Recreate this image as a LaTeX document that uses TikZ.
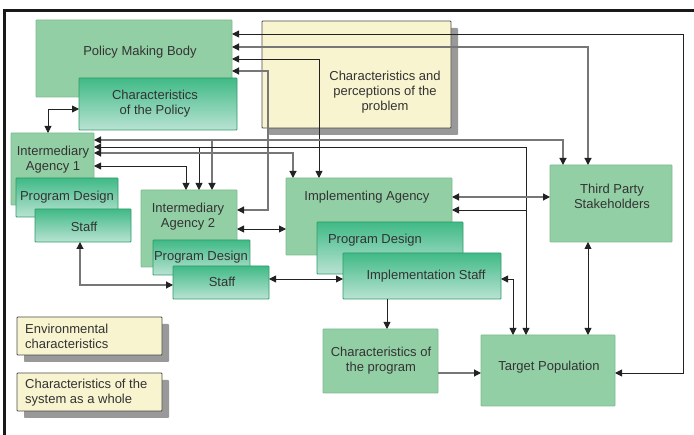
\documentclass[tikz,border=0pt]{standalone}
\usepackage{fontspec}
\setmainfont{Liberation Sans}
\usetikzlibrary{arrows.meta}
\definecolor{lgreen}{HTML}{93CFA5}
\definecolor{lgreenb}{HTML}{7DBB91}
\definecolor{gtop}{HTML}{40BA86}
\definecolor{gbot}{HTML}{B9E3D3}
\definecolor{gbord}{HTML}{2F9A6A}
\definecolor{ybox}{HTML}{F8F4D0}
\definecolor{txtc}{HTML}{333333}
\definecolor{lnblack}{HTML}{222222}
\definecolor{lngray}{HTML}{777777}
\begin{document}
\begin{tikzpicture}[x=1pt,y=-1pt,
  >={Triangle[length=7pt,width=7pt,color=lnblack]},
  base/.style={anchor=north west, inner sep=0pt, outer sep=0pt, rectangle, rounded corners=0.8pt},
  lbox/.style={base, fill=lgreen, draw=lgreenb, line width=0.8pt},
  gbox/.style={base, top color=gtop, bottom color=gbot, draw=gbord, line width=0.8pt},
  ybx/.style={base, fill=ybox, draw=black!70, line width=0.8pt},
  shd/.style={base, fill=black!40},
  lab/.style={text=txtc, inner sep=0pt, align=center, font=\fontsize{13}{15}\selectfont},
  labl/.style={lab, align=left, anchor=west},
  ln/.style={draw=lnblack, line width=0.9pt},
  lg/.style={draw=lngray, line width=1.2pt}
]
\useasboundingbox (0,0) rectangle (694,435);
% frame
\draw[line width=2.8pt, black!90] (4.5,435) -- (4.5,10.5) -- (694,10.5);

% boxes
\node[lbox, minimum width=196pt, minimum height=77pt] (pmb) at (36,20) {};
\node[gbox, minimum width=158pt, minimum height=52pt] (cp) at (79,78) {};
\node[shd, minimum width=189pt, minimum height=107pt] (probs) at (269,28) {};
\node[ybx, minimum width=189pt, minimum height=107pt] (prob) at (262,21) {};

\node[lbox, minimum width=83pt, minimum height=72pt] (ia1) at (11,133) {};
\node[gbox, minimum width=102pt, minimum height=39pt] (pd1) at (16,178) {};
\node[gbox, minimum width=96pt, minimum height=33pt] (s1) at (35,209) {};

\node[lbox, minimum width=96pt, minimum height=77pt] (ia2) at (141,190) {};
\node[gbox, minimum width=97pt, minimum height=35pt] (pd2) at (153,240) {};
\node[gbox, minimum width=96pt, minimum height=33pt] (s2) at (173,266) {};

\node[lbox, minimum width=166pt, minimum height=77pt] (ia) at (286,178) {};
\node[gbox, minimum width=146pt, minimum height=52pt] (pd3) at (317,222) {};
\node[gbox, minimum width=158pt, minimum height=46pt] (is) at (343,253) {};

\node[lbox, minimum width=122pt, minimum height=77pt] (tps) at (550,165) {};
\node[lbox, minimum width=115pt, minimum height=64pt] (cprog) at (323,329) {};
\node[lbox, minimum width=134pt, minimum height=71pt] (tp) at (481,335) {};

\node[shd, minimum width=145pt, minimum height=38pt] (envs) at (24,324) {};
\node[ybx, minimum width=145pt, minimum height=38pt] (env) at (17,317) {};
\node[shd, minimum width=145pt, minimum height=38pt] (syss) at (24,380) {};
\node[ybx, minimum width=145pt, minimum height=38pt] (sys) at (17,373) {};

% labels
\node[lab] (pmbt) at (140,52) {Policy Making Body};
\node[lab] (cpt) at (155,104) {Characteristics\\of the Policy};
\node[lab] (probt) at (385,92) {Characteristics and\\perceptions of the\\problem};
\node[lab] (ia1t) at (53,160) {Intermediary\\Agency 1};
\node[lab] (pd1t) at (67,197) {Program Design};
\node[lab] (s1t) at (84,227) {Staff};
\node[lab] (ia2t) at (188,217) {Intermediary\\Agency 2};
\node[lab] (pd2t) at (201,257) {Program Design};
\node[lab] (s2t) at (222,282) {Staff};
\node[lab] (iat) at (367,197) {Implementing Agency};
\node[lab] (pd3t) at (375,240) {Program Design};
\node[lab] (ist) at (426,276) {Implementation Staff};
\node[lab] (tpst) at (612,196) {Third Party\\Stakeholders};
\node[lab] (cprogt) at (381,361) {Characteristics of\\the program};
\node[lab] (tpt) at (549,367) {Target Population};
\node[labl] (envt) at (25,336) {Environmental\\characteristics};
\node[labl] (syst) at (25,393) {Characteristics of the\\system as a whole};

% lane coordinates
\coordinate (h34) at (0,34);
\coordinate (h47) at (0,47);
\coordinate (h59) at (0,59);
\coordinate (h71) at (0,71);
\coordinate (h109) at (0,109);
\coordinate (h140) at (0,140);
\coordinate (h147) at (0,147);
\coordinate (h153) at (0,153);
\coordinate (h166) at (0,166);
\coordinate (h197) at (0,197);
\coordinate (h210) at (0,210);
\coordinate (h229) at (0,229);
\coordinate (h279) at (0,279);
\coordinate (h285) at (0,285);
\coordinate (h373) at (0,373);
\coordinate (v48) at (48,0);
\coordinate (v80) at (80,0);
\coordinate (v186) at (186,0);
\coordinate (v199) at (199,0);
\coordinate (v212) at (212,0);
\coordinate (v268) at (268,0);
\coordinate (v293) at (293,0);
\coordinate (v319) at (319,0);
\coordinate (v387) at (387,0);
\coordinate (v513) at (513,0);
\coordinate (v526) at (526,0);
\coordinate (v563) at (563,0);
\coordinate (v588) at (588,0);
\coordinate (v683) at (683,0);

% connectors
\draw[ln,<->] (pmb.east |- h34) -- (v683 |- h34) -- (v683 |- h373) -- (tp.east |- h373);
\draw[lg,<->] (pmb.east |- h47) -- (v588 |- h47) -- (v588 |- tps.north);
\draw[ln,<->] (pmb.east |- h59) -- (v319 |- h59) -- (v319 |- ia.north);
\draw[lg,<->] (pmb.east |- h71) -- (v268 |- h71) -- (v268 |- h210) -- (ia2.east |- h210);
\draw[ln,<->] (cp.west |- h109) -- (v48 |- h109) -- (v48 |- ia1.north);

\draw[lg,<->] (ia1.east |- h140) -- (v563 |- h140) -- (v563 |- tps.north);
\draw[lg,->] (v212 |- h140) -- (v212 |- ia2.north);
\draw[ln,<->] (ia1.east |- h147) -- (v526 |- h147) -- (v526 |- tp.north);
\draw[ln,->] (v199 |- h147) -- (v199 |- ia2.north);
\draw[ln,->] (v526 |- h210) -- (ia.east |- h210);
\draw[lg,<->] (ia1.east |- h153) -- (v293 |- h153) -- (v293 |- ia.north);
\draw[ln,<->] (ia1.east |- h166) -- (v186 |- h166) -- (v186 |- ia2.north);

\draw[ln,<->] (ia2.east |- h229) -- (ia.west |- h229);
\draw[lg,<->] (ia.east |- h197) -- (tps.west |- h197);
\draw[ln,<->] (s2.east |- h279) -- (is.west |- h279);
\draw[ln,<->] (is.east |- h279) -- (v513 |- h279) -- (v513 |- tp.north);
\draw[lg,<->] (v80 |- s1.south) -- (v80 |- h285) -- (s2.west |- h285);
\draw[ln,->] (v387 |- is.south) -- (v387 |- cprog.north);
\draw[lg,->] (cprog.east |- h373) -- (tp.west |- h373);
\draw[ln,<->] (v588 |- tps.south) -- (v588 |- tp.north);
\end{tikzpicture}
\end{document}
